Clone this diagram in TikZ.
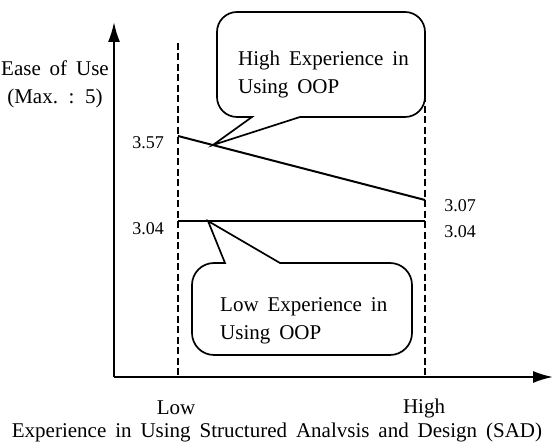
\documentclass[tikz,border=0pt]{standalone}
\usepackage{fontspec}
\setmainfont{Liberation Serif}[WordSpace=1.7]
\usepackage{tikz}
\usetikzlibrary{arrows.meta,positioning,calc}
\tikzstyle{axis}=[draw,line width=2pt,-{Latex[length=20pt,width=12pt]}]
\tikzstyle{guide}=[draw,line width=1.5pt,dash pattern=on 7pt off 3.5pt]
\tikzstyle{trend}=[draw,line width=2pt]
\tikzstyle{bubble}=[draw,line width=1.7pt,line join=miter]
\tikzstyle{txt}=[font=\fontsize{21}{28}\selectfont,inner sep=0pt]
\tikzstyle{num}=[font=\fontsize{18}{20}\selectfont,inner sep=0pt]

\begin{document}
\begin{tikzpicture}[x=1pt,y=1pt]
  \useasboundingbox (0,0) rectangle (555,444);

  % axes
  \coordinate (o) at (114,67);
  \coordinate (ytop) at (114,422);
  \coordinate (xend) at (553,67);
  \draw [axis] (o) -- (ytop);
  \draw [axis] (o) -- (xend);

  % low / high SAD experience
  \coordinate (lowtop) at (178,401);
  \coordinate (lowbot) at (178,67);
  \coordinate (hightop) at (425,401);
  \coordinate (highbot) at (425,67);
  \draw [guide] (lowtop) -- (lowbot);
  \draw [guide] (hightop) -- (highbot);

  % the two lines
  \coordinate (h1) at (178,308);
  \coordinate (h2) at (425,244);
  \coordinate (l1) at (178,223);
  \coordinate (l2) at (425,223);
  \draw [trend] (h1) -- (h2);
  \draw [trend] (l1) -- (l2);

  \node [num] (v357) at (148,301) {3.57};
  \node [num] (v304a) at (148,215) {3.04};
  \node [num] (v307) at (460,238) {3.07};
  \node [num] (v304b) at (460,212) {3.04};

  % callouts
  \coordinate (hb1) at (252,327);
  \coordinate (hb2) at (300,327);
  \coordinate (htip) at (213,299);
  \draw [bubble] (hb2) -- (405,327) arc (270:360:20) -- (425,412)
    arc (0:90:20) -- (237,432) arc (90:180:20) -- (217,347)
    arc (180:270:20) -- (hb1) -- (htip) -- cycle;
  \node [txt, anchor=west, align=left] (hightxt) at (238,370)
    {High Experience in\\Using OOP};

  \coordinate (lb1) at (225,181);
  \coordinate (lb2) at (280,181);
  \coordinate (ltip) at (208,223);
  \draw [bubble] (lb1) -- (ltip) -- (lb2) -- (390,181) arc (90:0:22)
    -- (412,111) arc (0:-90:22) -- (214,89) arc (270:180:22)
    -- (192,159) arc (180:90:22) -- cycle;
  \node [txt, anchor=west, align=left] (lowtxt) at (220,123)
    {Low Experience in\\Using OOP};

  % axis titles
  \node [txt, align=center] (ease) at (55,360) {Ease of Use\\(Max. : 5)};
  \node [txt] (lowx) at (176,36) {Low};
  \node [txt] (highx) at (424,36) {High};
  \node [txt] (sad) at (277,12)
    {Experience in Using Structured Analvsis and Design (SAD)};
\end{tikzpicture}
\end{document}
